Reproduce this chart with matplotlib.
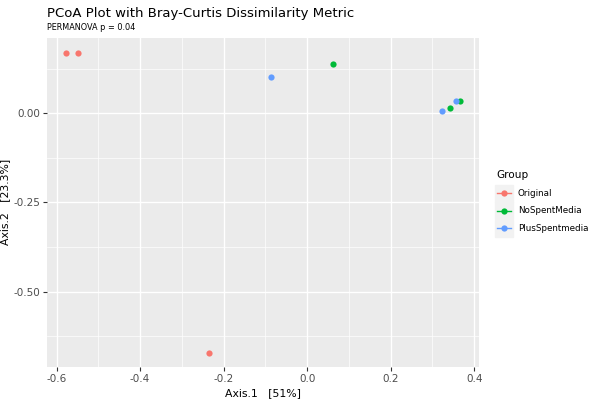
import matplotlib
matplotlib.use("Agg")
import matplotlib.pyplot as plt
from matplotlib.lines import Line2D
from matplotlib.patches import Rectangle
from matplotlib.ticker import MultipleLocator, FuncFormatter

GROUPS = ["Original", "NoSpentMedia", "PlusSpentmedia"]
COLORS = {"Original": "#F8766D", "NoSpentMedia": "#00BA38", "PlusSpentmedia": "#619CFF"}

axis1 = {
    "Original": [-0.577, -0.549, -0.235],
    "NoSpentMedia": [0.063, 0.343, 0.365],
    "PlusSpentmedia": [-0.087, 0.322, 0.357],
}
axis2 = {
    "Original": [0.168, 0.168, -0.671],
    "NoSpentMedia": [0.139, 0.016, 0.034],
    "PlusSpentmedia": [0.101, 0.007, 0.034],
}

PANEL = "#EBEBEB"
TICK = "#4D4D4D"

plt.rcParams["font.family"] = "DejaVu Sans"
fig = plt.figure(figsize=(6, 4), dpi=100)
ax = fig.add_axes([0.0783, 0.0825, 0.7197, 0.8235])
ax.set_facecolor(PANEL)
for s in ax.spines.values():
    s.set_visible(False)

for g in GROUPS:
    ax.scatter(axis1[g], axis2[g], s=20, color=COLORS[g], zorder=3, linewidths=0)

ax.set_xlim(-0.623, 0.411)
ax.set_ylim(-0.711, 0.212)
ax.xaxis.set_major_locator(MultipleLocator(0.2))
ax.xaxis.set_minor_locator(MultipleLocator(0.1))
ax.yaxis.set_major_locator(MultipleLocator(0.25))
ax.yaxis.set_minor_locator(MultipleLocator(0.125))
ax.grid(which="major", color="white", lw=1.0)
ax.grid(which="minor", color="white", lw=0.5)
ax.set_axisbelow(True)
ax.tick_params(which="major", length=3, color="#333333", labelcolor=TICK, labelsize=7.5, pad=2)
ax.tick_params(which="minor", length=0)
ax.xaxis.set_major_formatter(FuncFormatter(lambda v, p: f"{v:.1f}"))
ax.yaxis.set_major_formatter(FuncFormatter(lambda v, p: f"{v:.2f}"))

ax.set_xlabel("Axis.1   [51%]", fontsize=7.8)
ax.set_ylabel("Axis.2   [23.3%]", fontsize=7.8)
ax.xaxis.set_label_coords(0.5, -0.064)
ax.yaxis.set_label_coords(-0.086, 0.5)

fig.text(0.0783, 0.958, "PCoA Plot with Bray-Curtis Dissimilarity Metric", fontsize=9.5, va="baseline")
fig.text(0.0783, 0.925, "PERMANOVA p = 0.04", fontsize=5.9, va="baseline")

# legend drawn by hand to get ggplot-style key boxes
fig.text(496 / 600, 1 - 175 / 400, "Group", fontsize=7.6, va="center")
key_y = [193.3, 210.7, 228.3]
for g, y in zip(GROUPS, key_y):
    fig.patches.append(Rectangle((495 / 600, 1 - (y + 8.7) / 400), 17.5 / 600, 17.4 / 400,
                                 transform=fig.transFigure, color="#F2F2F2", zorder=1))
    fig.lines.append(Line2D([497 / 600, 511 / 600], [1 - y / 400] * 2, transform=fig.transFigure,
                            color=COLORS[g], lw=1, zorder=2))
    fig.lines.append(Line2D([504 / 600], [1 - y / 400], transform=fig.transFigure,
                            color=COLORS[g], marker="o", ms=4.5, mew=0, zorder=3))
    fig.text(518 / 600, 1 - y / 400, g, fontsize=6.3, va="center")

fig.savefig("out.png", dpi=100)
